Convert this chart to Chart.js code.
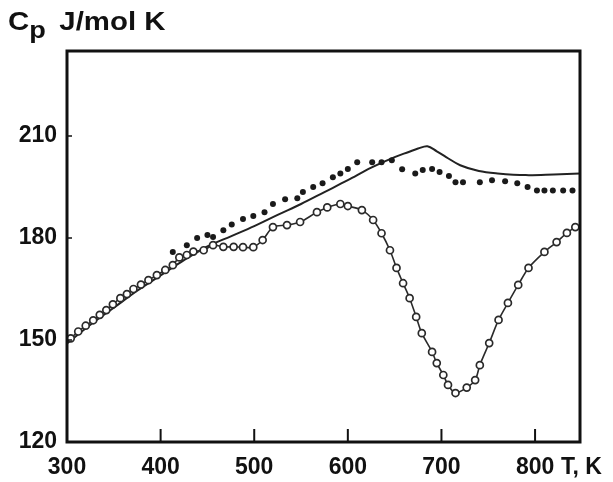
<!DOCTYPE html>
<html>
<head>
<meta charset="utf-8">
<script src="https://cdn.jsdelivr.net/npm/chart.js@4.4.1/dist/chart.umd.min.js"></script>
<style>
  body { margin: 0; background: #fff; }
  #wrap { position: relative; width: 613px; height: 482px; font-family: "Liberation Sans", Arial, sans-serif; }
  #title { position: absolute; left: 8px; top: 6px; font-weight: bold; font-size: 26px; color: #111;
           transform: scaleX(1.13); transform-origin: left top; white-space: nowrap; }
  #title sub { font-size: 24px; vertical-align: -8px; margin-right: 12px; }
  #xunit { position: absolute; left: 561px; top: 453px; font-weight: bold; font-size: 23px; color: #111; }
</style>
</head>
<body>
<div id="wrap">
  <canvas id="cpChart" width="613" height="482"></canvas>
  <div id="title">C<sub>p</sub>J/mol K</div>
  <div id="xunit">T, K</div>
</div>
<script>
// solid curve
const lineT  = [300, 325, 350, 375, 400, 425, 450, 475, 500, 525, 550, 575, 600, 625, 650, 665, 675, 685, 695, 705, 720, 740, 760, 790, 820, 848];
const lineCp = [149, 154.5, 159.5, 164.5, 169, 173.5, 177.5, 180.5, 183.5, 186.8, 190, 193.5, 197, 200.7, 203.8, 205.3, 206.3, 207, 205.5, 203.8, 201.4, 199.7, 199, 198.5, 198.7, 199];

// filled dots
const dotT  = [413, 428, 439, 450, 456, 467, 476, 488, 499, 511, 520, 533, 546, 552, 563, 573, 584, 592, 600, 610, 626, 636, 647, 658, 672, 680, 690, 698, 708, 715, 723, 741, 754, 768, 781, 792, 802, 810, 819, 830, 840];
const dotCp = [175.9, 177.9, 180, 180.9, 180.3, 182.3, 184, 185.6, 186.5, 187.6, 190, 191.4, 191.7, 193.5, 195, 196.1, 197.9, 199, 200.3, 202.3, 202.3, 202.3, 202.9, 200.2, 199, 200, 200.3, 199.4, 198.2, 196.4, 196.4, 196.4, 197, 196.7, 196.1, 195, 194, 194, 194, 194, 194];

// open circles
const circT  = [304, 312, 320, 328, 335, 342, 349, 357, 364, 371, 379, 387, 396, 405, 413, 420, 428, 435, 446, 456, 467, 478, 488, 499, 509, 520, 535, 549, 567, 578, 592, 600, 615, 627, 636, 645, 652, 659, 666, 673, 679, 690, 695, 702, 707, 715, 727, 736, 741, 751, 761, 771, 782, 793, 810, 823, 834, 843];
const circCp = [150.5, 152.5, 154.2, 155.8, 157.4, 158.8, 160.5, 162.3, 163.5, 165, 166.3, 167.6, 169.1, 170.6, 172, 174.3, 175, 176, 176.4, 177.9, 177.4, 177.4, 177.3, 177.3, 179.4, 183.2, 183.8, 184.7, 187.6, 189, 190, 189.4, 188.2, 185.3, 181.4, 176.4, 171.2, 166.7, 162.3, 156.8, 152, 146.5, 143.2, 139.7, 136.8, 134.4, 136, 138.2, 142.6, 149.1, 155.9, 160.9, 166.2, 171.2, 175.9, 178.8, 181.5, 183.2];

const xTicks = [300, 400, 500, 600, 700, 800];
const yTicks = [120, 150, 180, 210];

const pts = (xs, ys) => xs.map((x, i) => ({ x: x, y: ys[i] }));

const frame = {
    id: 'frame',
    afterDraw(chart) {
        const ctx = chart.ctx;
        const a = chart.chartArea;
        const xs = chart.scales.x, ys = chart.scales.y;
        ctx.save();
        ctx.strokeStyle = '#111';
        ctx.lineWidth = 2;
        xTicks.slice(1).forEach(v => {
            const px = xs.getPixelForValue(v);
            ctx.beginPath();
            ctx.moveTo(px, a.bottom);
            ctx.lineTo(px, a.bottom - 13);
            ctx.stroke();
        });
        ctx.lineWidth = 1.5;
        yTicks.slice(1).forEach(v => {
            const py = ys.getPixelForValue(v);
            ctx.beginPath();
            ctx.moveTo(a.left, py);
            ctx.lineTo(a.left + 5, py);
            ctx.stroke();
        });
        ctx.lineWidth = 3;
        ctx.strokeRect(a.left, a.top, a.right - a.left, a.bottom - a.top);
        ctx.restore();
    }
};

new Chart(document.getElementById('cpChart'), {
    type: 'scatter',
    data: {
        datasets: [
            {
                label: 'circles',
                data: pts(circT, circCp),
                showLine: true,
                borderColor: '#2a2a2a',
                borderWidth: 1.6,
                pointRadius: 3.5,
                pointBorderWidth: 1.7,
                pointBackgroundColor: '#fff',
                pointBorderColor: '#2a2a2a',
                tension: 0.3
            },
            {
                label: 'dots',
                data: pts(dotT, dotCp),
                showLine: false,
                pointRadius: 3,
                pointBorderWidth: 0,
                pointBackgroundColor: '#1a1a1a',
                pointBorderColor: '#1a1a1a'
            },
            {
                label: 'line',
                data: pts(lineT, lineCp),
                showLine: true,
                borderColor: '#222',
                borderWidth: 2,
                pointRadius: 0,
                tension: 0.35
            }
        ]
    },
    options: {
        responsive: false,
        animation: false,
        layout: { padding: { top: 51, right: 33, left: 0, bottom: 0 } },
        plugins: { legend: { display: false }, tooltip: { enabled: false } },
        scales: {
            x: {
                type: 'linear',
                min: 300,
                max: 848,
                afterFit: s => { s.height = 40; },
                afterBuildTicks: s => { s.ticks = xTicks.map(v => ({ value: v })); },
                grid: { display: false, drawTicks: false },
                border: { display: false },
                ticks: {
                    padding: 12,
                    color: '#111',
                    font: { family: 'Liberation Sans', size: 23, weight: 'bold' },
                    maxRotation: 0,
                    autoSkip: false
                }
            },
            y: {
                type: 'linear',
                min: 120,
                max: 235,
                afterFit: s => { s.width = 67; },
                afterBuildTicks: s => { s.ticks = yTicks.map(v => ({ value: v })); },
                grid: { display: false, drawTicks: false },
                border: { display: false },
                ticks: {
                    padding: 10,
                    color: '#111',
                    font: { family: 'Liberation Sans', size: 23, weight: 'bold' }
                }
            }
        }
    },
    plugins: [frame]
});
</script>
</body>
</html>
